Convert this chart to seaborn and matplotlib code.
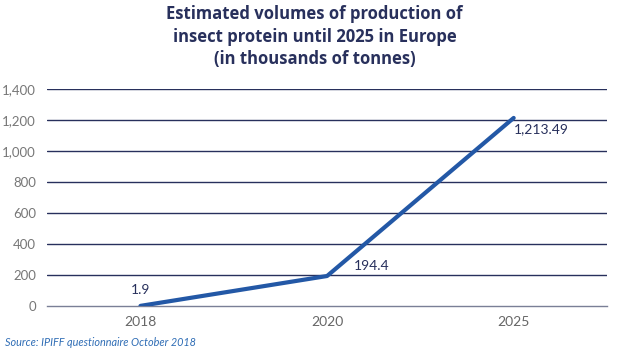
import matplotlib
matplotlib.use('Agg')
import matplotlib.pyplot as plt
import seaborn as sns
import pandas as pd

years = ['2018', '2020', '2025']
volumes = [1.9, 194.4, 1213.49]
point_labels = ['1.9', '194.4', '1,213.49']
y_ticks = [0, 200, 400, 600, 800, 1000, 1200, 1400]

sns.set_style('white')
plt.rcParams['font.family'] = ['Lato', 'DejaVu Sans']

navy = '#28305c'
blue = '#2358a6'

df = pd.DataFrame({'year': years, 'volume': volumes})
df['pos'] = range(len(years))

fig = plt.figure(figsize=(6.29, 3.56), dpi=100)
ax = fig.add_axes([0.075, 0.14, 0.89, 0.61])

for t in y_ticks[1:]:
    ax.axhline(t, color=navy, lw=1, zorder=1)

sns.lineplot(data=df, x='pos', y='volume', color=blue, lw=3, ax=ax, zorder=3)

ax.set_xlim(-0.5, 2.5)
ax.set_ylim(0, 1400)
ax.set_xticks(range(len(years)))
ax.set_xticklabels(years, color='#666666', fontsize=10)
ax.set_xticks([-0.5, 0.5, 1.5, 2.5], minor=True)
ax.tick_params(axis='x', which='major', length=0, pad=7)
ax.tick_params(axis='x', which='minor', length=6, width=1, color='#7a7f96', direction='out')
ax.set_yticks(y_ticks)
ax.set_yticklabels([f'{t:,}' for t in y_ticks], color='#777777', fontsize=9.5)
ax.tick_params(axis='y', length=0, pad=8)
ax.set_xlabel('')
ax.set_ylabel('')
for s in ['top', 'right', 'left']:
    ax.spines[s].set_visible(False)
ax.spines['bottom'].set_color('#7a7f96')
ax.spines['bottom'].set_linewidth(1)

# value labels
ax.annotate(point_labels[0], (0, volumes[0]), xytext=(0, 7), textcoords='offset points',
            ha='center', va='bottom', fontsize=10, color=navy)
ax.annotate(point_labels[1], (1, volumes[1]), xytext=(19, 3), textcoords='offset points',
            ha='left', va='bottom', fontsize=10, color=navy)
ax.annotate(point_labels[2], (2, volumes[2]), xytext=(0, -4), textcoords='offset points',
            ha='left', va='top', fontsize=10, color=navy)

fig.suptitle('Estimated volumes of production of\ninsect protein until 2025 in Europe\n(in thousands of tonnes)',
             x=0.5, y=0.985, fontsize=12, fontweight='bold', color=navy, linespacing=1.3,
             family=['Open Sans', 'DejaVu Sans'])

fig.text(0.008, 0.022, 'Source: IPIFF questionnaire October 2018', fontsize=7.8,
         style='italic', color='#2f6db5', ha='left', va='bottom')

fig.savefig('out.png', dpi=100)
